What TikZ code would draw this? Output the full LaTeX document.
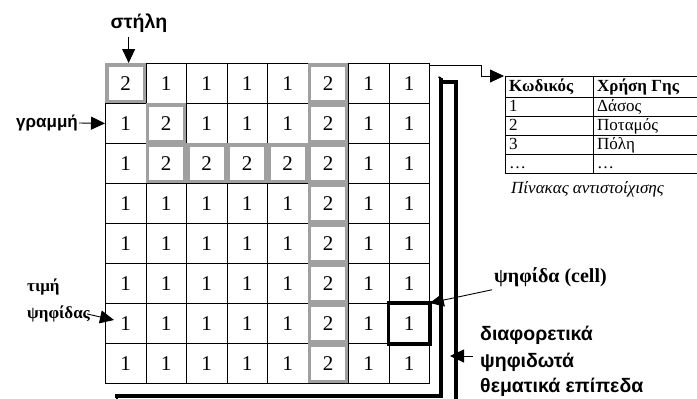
\documentclass[tikz,border=0pt]{standalone}
\usepackage{fontspec}
\setmainfont{Liberation Serif}
\setsansfont{Liberation Sans}
\usetikzlibrary{arrows.meta}
\definecolor{framegray}{RGB}{160,160,160}
\begin{document}
\begin{tikzpicture}[x=1pt,y=-1pt,
  cellbox/.style={draw=black, line width=0.8pt, minimum width=40.5pt, minimum height=40pt,
    inner sep=0pt, anchor=north west, font=\fontsize{21}{21}\selectfont},
  grayframe/.style={draw=framegray, line width=3.2pt},
  layerline/.style={line width=3.5pt},
  thinline/.style={line width=0.8pt},
  arr/.style={line width=0.9pt, -{Triangle[length=14pt,width=13pt]}},
  sanslabel/.style={font=\sffamily\bfseries\fontsize{19.5}{19.5}\selectfont, inner sep=0pt},
  seriflabel/.style={font=\bfseries\fontsize{20}{20}\selectfont, inner sep=0pt},
  smalllabel/.style={font=\bfseries\fontsize{17}{17}\selectfont, inner sep=0pt, anchor=west},
  tabtext/.style={font=\fontsize{17}{17}\selectfont, inner sep=0pt, anchor=base west},
  tabhead/.style={font=\bfseries\fontsize{17}{17}\selectfont, inner sep=0pt, anchor=base west},
  tabline/.style={line width=0.7pt}
]
\useasboundingbox (0,0) rectangle (697,399);

% grid cells
\foreach \row [count=\r from 0] in {{2,1,1,1,1,2,1,1},{1,2,1,1,1,2,1,1},{1,2,2,2,2,2,1,1},
  {1,1,1,1,1,2,1,1},{1,1,1,1,1,2,1,1},{1,1,1,1,1,2,1,1},{1,1,1,1,1,2,1,1},{1,1,1,1,1,2,1,1}}{
  \foreach \v [count=\c from 0] in \row {
    \node[cellbox] (c\r\c) at ({105+40.5*\c},{63+40*\r}) {\v};
  }
}
% gray frames of the value-2 cells
\foreach \row [count=\r from 0] in {{2,1,1,1,1,2,1,1},{1,2,1,1,1,2,1,1},{1,2,2,2,2,2,1,1},
  {1,1,1,1,1,2,1,1},{1,1,1,1,1,2,1,1},{1,1,1,1,1,2,1,1},{1,1,1,1,1,2,1,1},{1,1,1,1,1,2,1,1}}{
  \foreach \v [count=\c from 0] in \row {
    \ifnum\v=2
      \draw[grayframe] ([shift={(2,2)}]c\r\c.north west) rectangle ([shift={(-2,-2)}]c\r\c.south east);
    \fi
  }
}
% highlighted cell
\draw[line width=3.8pt] (c67.north west) rectangle (c67.south east);

% layers
\coordinate (l1top) at (441,78);
\coordinate (l1corner) at (441,396);
\coordinate (l1end) at (115,396);
\draw[layerline] (l1top) -- (l1corner) -- (l1end);
\draw[line width=2pt] (117,396) -- (117,400);
\draw[line width=1.5pt] (438.5,77) -- (441,78);
\coordinate (l2top) at (441,82);
\coordinate (l2corner) at (456,82);
\coordinate (l2bottom) at (456,402);
\draw[layerline] (l2top) -- (l2corner) -- (l2bottom);

% table
\coordinate (tblcorner) at (505,76);
\foreach \yy in {76,97,116,135,154,173}{
  \draw[tabline] (505,\yy) -- (698,\yy);
}
\draw[tabline] (505,76) -- (505,173);
\draw[tabline] (593,76) -- (593,173);
\node[tabhead] (h1) at (509,91.5) {Κωδικός};
\node[tabhead] (h2) at (597,91.5) {Χρήση Γης};
\node[tabtext] (a1) at (509,111) {1};
\node[tabtext] (b1) at (597,111) {Δάσος};
\node[tabtext] (a2) at (509,130) {2};
\node[tabtext] (b2) at (597,130) {Ποταμός};
\node[tabtext] (a3) at (509,149) {3};
\node[tabtext] (b3) at (597,149) {Πόλη};
\node[tabtext] (a4) at (509,168) {…};
\node[tabtext] (b4) at (597,168) {…};
\node[tabtext, font=\itshape\fontsize{17}{17}\selectfont] (caption) at (511,193) {Πίνακας αντιστοίχισης};

% arrow from grid to table
\coordinate (bend1) at (481,65);
\coordinate (bend2) at (481,76);
\draw[thinline] ([yshift=-2pt]c07.north east) -- (bend1) -- (bend2);
\draw[arr, thinline] (bend2) -- ([xshift=-1pt]tblcorner);

% labels
\node[sanslabel] (colLabel) at (139,23) {στήλη};
\draw[arr] (colLabel.south -| c00.north) ++(3,4) -- ([xshift=3pt]c00.north);

\node[sanslabel, anchor=east, font=\sffamily\bfseries\fontsize{17}{17}\selectfont] (rowLabel) at (78,123) {γραμμή};
\draw[arr] ([xshift=1pt]rowLabel.east) -- (c10.west);

\node[smalllabel] (valLabelA) at (27,287) {τιμή};
\node[smalllabel] (valLabelB) at (27,314) {ψηφίδας};
\coordinate (valTip) at (114,320);
\draw[arr] ([xshift=-3pt]valLabelB.east) -- (valTip);

\node[seriflabel, anchor=west] (cellLabel) at (494,277) {ψηφίδα (cell)};
\draw[arr] ([shift={(-2,3)}]cellLabel.south west) -- (c67.north east);

\node[sanslabel, anchor=west] (layA) at (480,335) {διαφορετικά};
\node[sanslabel, anchor=west] (layB) at (480,362) {ψηφιδωτά};
\node[sanslabel, anchor=west] (layC) at (480,387) {θεματικά επίπεδα};
\coordinate (l2mid) at (450,356);
\draw[arr] (473,356) -- (l2mid);
\end{tikzpicture}
\end{document}
